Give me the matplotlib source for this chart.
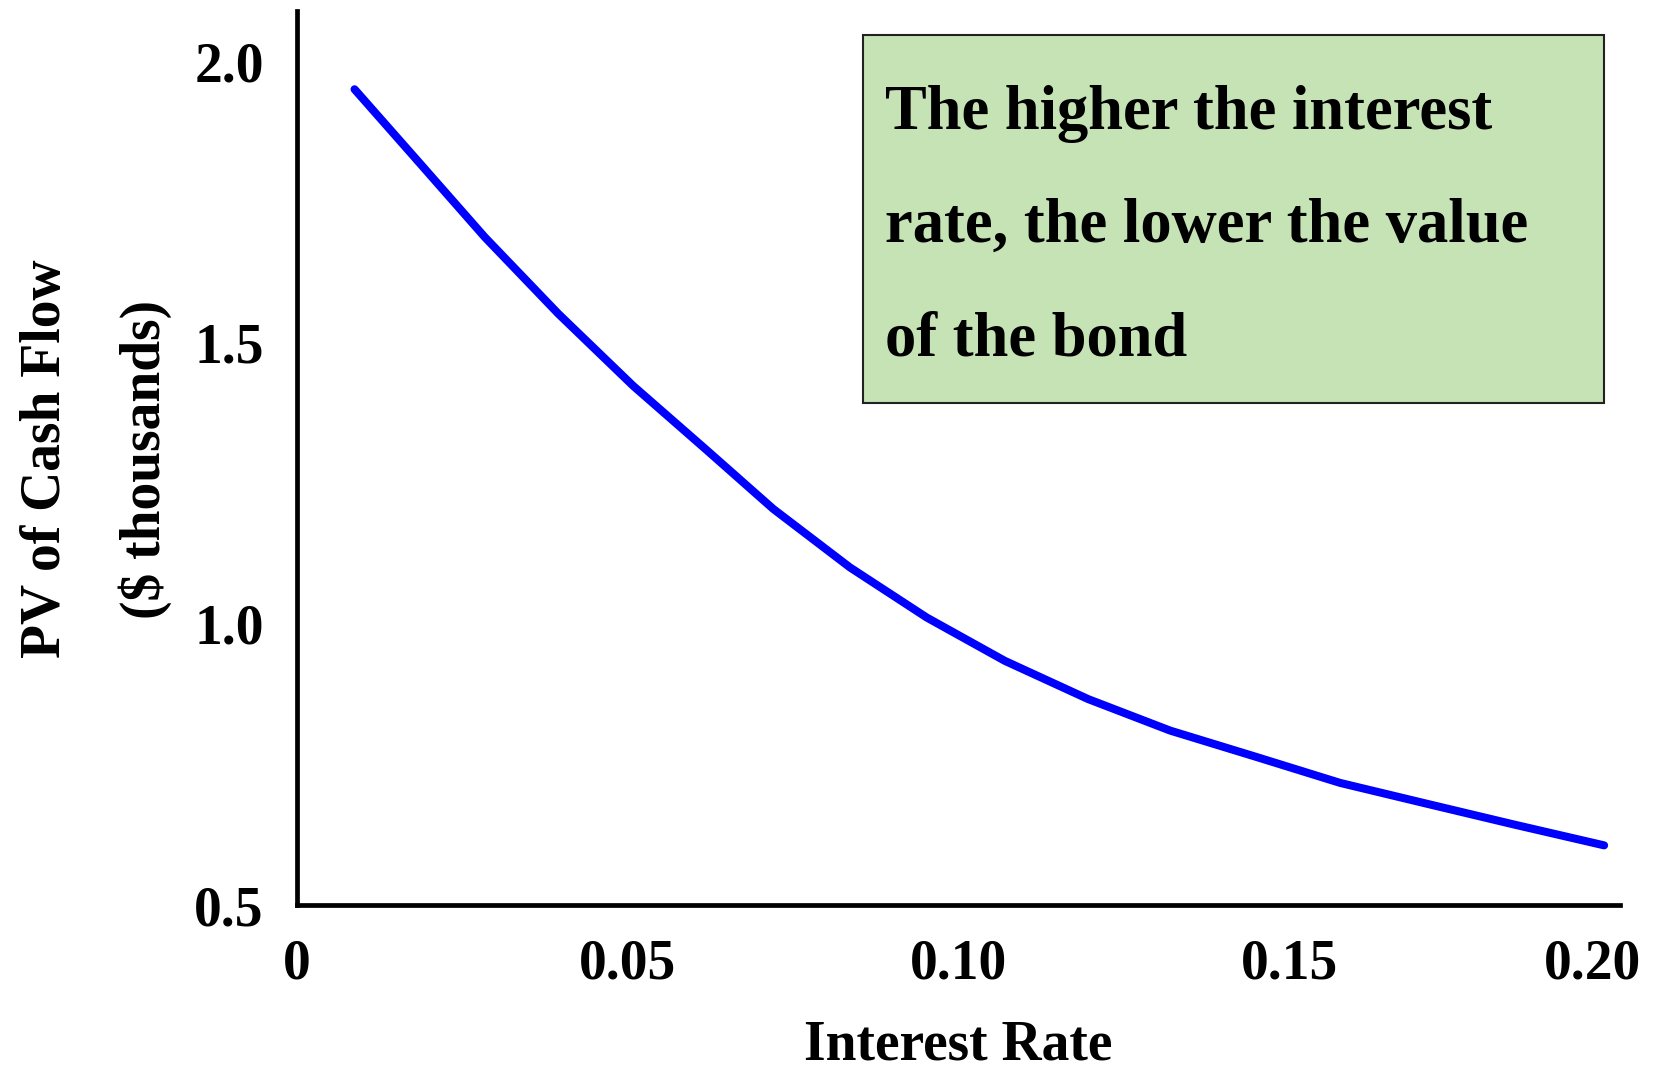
import matplotlib

matplotlib.use("Agg")
import matplotlib.pyplot as plt
from matplotlib.patches import Rectangle
from matplotlib.transforms import ScaledTranslation

# values
interest_rate = [0.0087, 0.0186, 0.0284, 0.0395, 0.0508, 0.0617, 0.0720, 0.0836, 0.0952,
                 0.1070, 0.1196, 0.1320, 0.1448, 0.1577, 0.1708, 0.1840, 0.1976]
pv_cash_flow = [1.950, 1.818, 1.687, 1.551, 1.423, 1.311, 1.204, 1.100, 1.011,
                0.934, 0.866, 0.810, 0.764, 0.717, 0.680, 0.643, 0.606]

x_ticks = [0, 0.05, 0.10, 0.15, 0.20]
x_tick_labels = ["0", "0.05", "0.10", "0.15", "0.20"]
y_ticks = [0.5, 1.0, 1.5, 2.0]
y_tick_labels = ["0.5", "1.0", "1.5", "2.0"]

note_text = "The higher the interest\nrate, the lower the value\nof the bond"

plt.rcParams["font.family"] = ["Liberation Serif", "DejaVu Serif"]
plt.rcParams["font.weight"] = "bold"

W, H = 1653, 1073
fig = plt.figure(figsize=(W / 100, H / 100), dpi=100)
fig.patch.set_facecolor("white")

# axes box in pixels: x 297..1620, y 10.5..905 (from top)
ax = fig.add_axes([297 / W, (H - 905) / H, (1620 - 297) / W, (905 - 10.5) / H])
ax.plot(interest_rate, pv_cash_flow, color="#0000ff", linewidth=5.8,
        solid_capstyle="round", solid_joinstyle="miter", clip_on=False)

ax.set_xlim(0, 0.20)
ax.set_ylim(0.5, 2.09)
ax.set_xticks(x_ticks)
ax.set_xticklabels(x_tick_labels)
ax.set_yticks(y_ticks)
ax.set_yticklabels(y_tick_labels)
ax.tick_params(axis="both", length=0, labelsize=40)
ax.tick_params(axis="x", pad=24)
ax.tick_params(axis="y", pad=24)

# keep the last x label inside the figure
last_label = ax.get_xticklabels()[-1]
last_label.set_transform(last_label.get_transform() + ScaledTranslation(-28 / 100, 0, fig.dpi_scale_trans))

for side in ("top", "right"):
    ax.spines[side].set_visible(False)
for side in ("left", "bottom"):
    ax.spines[side].set_color("black")
    ax.spines[side].set_linewidth(3.4)
    ax.spines[side].set_capstyle("projecting")

ax.set_xlabel("Interest Rate", fontsize=40, fontweight="bold", va="top")
ax.xaxis.set_label_coords(0.5, -0.1275)
ax.set_ylabel("PV of Cash Flow\n($ thousands)", fontsize=40, fontweight="bold",
              va="center", ha="center", linespacing=2.11)
ax.yaxis.set_label_coords(-0.152, 0.4986)

# green note box
fig.patches.append(Rectangle((863 / W, (H - 403) / H), (1604 - 863) / W, (403 - 35) / H,
                             transform=fig.transFigure, facecolor="#c5e3b5",
                             edgecolor="#222222", linewidth=1.5, zorder=5))
fig.text(885 / W, (H - 355) / H, note_text, fontsize=45, fontweight="bold",
         ha="left", va="baseline", linespacing=2.25, zorder=6)

fig.savefig("out.png", dpi=100, facecolor=fig.get_facecolor())
